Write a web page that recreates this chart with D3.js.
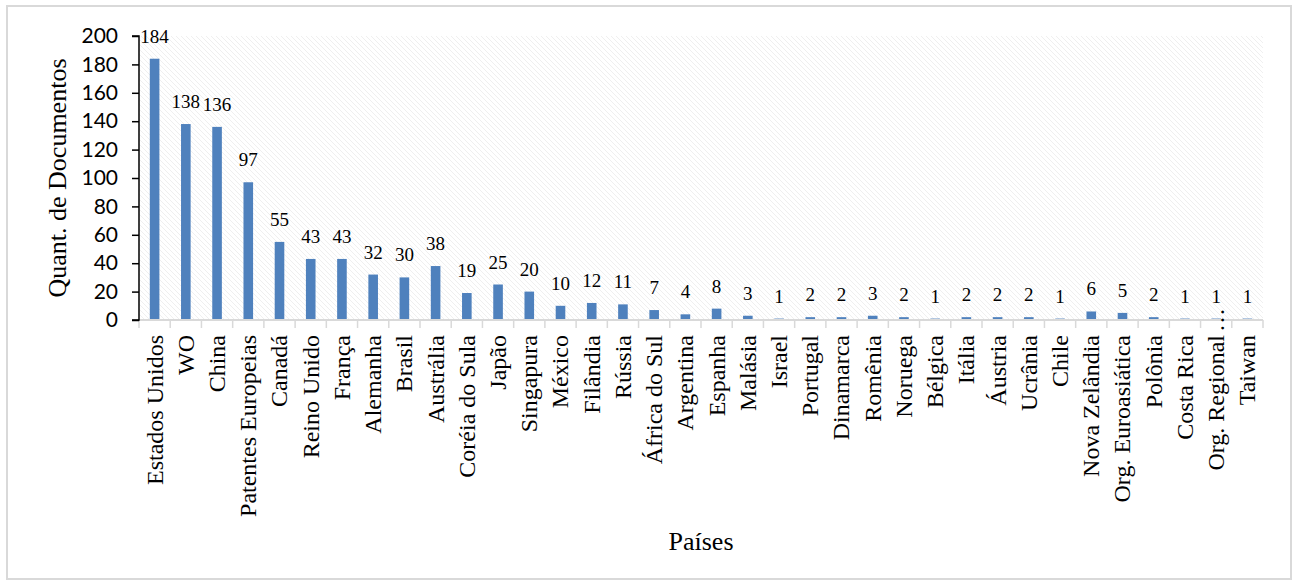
<!DOCTYPE html>
<html>
<head>
<meta charset="utf-8">
<script src="https://cdn.jsdelivr.net/npm/d3@7"></script>
<style>
  html, body { margin: 0; padding: 0; background: #fff; }
  svg { display: block; }
</style>
</head>
<body>
<svg id="chart" width="1296" height="581"></svg>
<script>
const categories = ["Estados Unidos","WO","China","Patentes Europeias","Canadá","Reino Unido","França","Alemanha","Brasil","Austrália","Coréia do Sula","Japão","Singapura","México","Filândia","Rússia","África do Sul","Argentina","Espanha","Malásia","Israel","Portugal","Dinamarca","Romênia","Noruega","Bélgica","Itália","Áustria","Ucrânia","Chile","Nova Zelândia","Org. Euroasiática","Polônia","Costa Rica","Org. Regional…","Taiwan"];
const values = [184,138,136,97,55,43,43,32,30,38,19,25,20,10,12,11,7,4,8,3,1,2,2,3,2,1,2,2,2,1,6,5,2,1,1,1];
const yTicks = [0,20,40,60,80,100,120,140,160,180,200];
const yTitle = "Quant. de Documentos";
const xTitle = "Países";

const m = {left: 139, top: 36, right: 1263, bottom: 320};
const svg = d3.select("#chart");
const serif = "'Liberation Serif', 'Times New Roman', serif";
const sans = "Lato, 'Open Sans', sans-serif";

// outer frame
svg.append("rect").attr("x", 7).attr("y", 6).attr("width", 1284).attr("height", 573)
  .attr("fill", "#fff").attr("stroke", "#d9d9d9").attr("stroke-width", 2);

// hatch pattern
const defs = svg.append("defs");
const pat = defs.append("pattern").attr("id", "hatch").attr("patternUnits", "userSpaceOnUse")
  .attr("width", 5).attr("height", 5);
pat.append("path").attr("d", "M-1,-1 L6,6 M-1,4 L1,6 M4,-1 L6,1")
  .attr("stroke", "#efefef").attr("stroke-width", 1);

const xb = d3.scaleBand().domain(categories).range([m.left, m.right]).padding(0);
const y = d3.scaleLinear().domain([0, 200]).range([m.bottom, m.top]);

svg.append("rect").attr("x", m.left).attr("y", m.top)
  .attr("width", m.right - m.left).attr("height", m.bottom - m.top)
  .attr("fill", "url(#hatch)");

// bars
svg.append("g").selectAll("rect").data(values).join("rect")
  .attr("x", (d, i) => xb(categories[i]) + xb.bandwidth() / 2 - 4.8)
  .attr("width", 9.6)
  .attr("y", d => y(d))
  .attr("height", d => y(0) - y(d))
  .attr("fill", "#4f81bd");

// value labels
svg.append("g").selectAll("text").data(values).join("text")
  .attr("x", (d, i) => xb(categories[i]) + xb.bandwidth() / 2)
  .attr("y", d => y(d) - 16)
  .attr("text-anchor", "middle")
  .attr("font-family", serif).attr("font-size", 19).attr("fill", "#000")
  .text(d => d);

// x axis
const xAxisG = svg.append("g");
xAxisG.append("line").attr("x1", m.left).attr("x2", m.right).attr("y1", m.bottom).attr("y2", m.bottom)
  .attr("stroke", "#d9d9d9").attr("stroke-width", 2);
const bounds = categories.map(c => xb(c)).concat([m.right]);
xAxisG.selectAll("line.tk").data(bounds).join("line").attr("class", "tk")
  .attr("x1", d => d).attr("x2", d => d).attr("y1", m.bottom).attr("y2", m.bottom + 8)
  .attr("stroke", "#d9d9d9").attr("stroke-width", 1.5);

const labG = svg.append("g");
categories.forEach(c => {
  const cx = xb(c) + xb.bandwidth() / 2;
  const ell = c.endsWith("…");
  const main = ell ? c.slice(0, -1) : c;
  labG.append("text")
    .attr("transform", `translate(${cx},${m.bottom + 15}) rotate(-90)`)
    .attr("dy", "0.33em")
    .attr("text-anchor", "end")
    .attr("font-family", serif).attr("font-size", 24).attr("fill", "#000")
    .text(main);
  if (ell) {
    labG.append("text")
      .attr("transform", `translate(${cx},${m.bottom + 12}) rotate(-90)`)
      .attr("dy", "0.33em")
      .attr("text-anchor", "start")
      .attr("font-family", serif).attr("font-size", 24).attr("fill", "#000")
      .text("…");
  }
});

// y axis
const yAxis = d3.axisLeft(y).tickValues(yTicks).tickSize(7).tickPadding(14);
const yg = svg.append("g").attr("transform", `translate(${m.left},0)`).call(yAxis);
yg.select(".domain").attr("stroke", "#000").attr("stroke-width", 1.5).attr("d", `M-7,${m.top}H0V${m.bottom}H-7`);
yg.selectAll(".tick line").attr("stroke", "#000").attr("stroke-width", 1.5);
yg.selectAll(".tick text").attr("font-family", sans).attr("font-size", 21).attr("fill", "#000");

// titles
svg.append("text").attr("transform", `translate(66,${(m.top + m.bottom) / 2}) rotate(-90)`)
  .attr("text-anchor", "middle").attr("font-family", serif).attr("font-size", 26).attr("fill", "#000")
  .text(yTitle);
svg.append("text").attr("x", 701).attr("y", 550).attr("text-anchor", "middle")
  .attr("font-family", serif).attr("font-size", 26).attr("fill", "#000").text(xTitle);
</script>
</body>
</html>
